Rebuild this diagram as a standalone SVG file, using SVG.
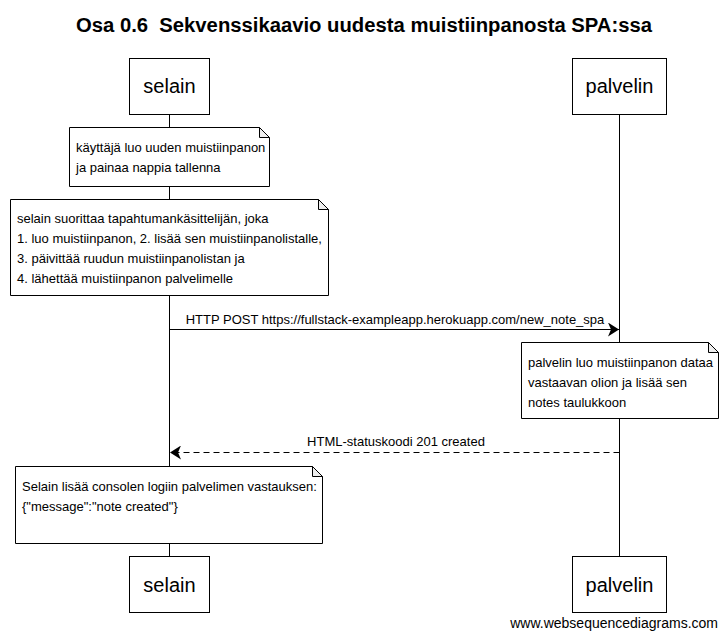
<svg xmlns="http://www.w3.org/2000/svg" width="726" height="637" viewBox="0 0 726 637">
<style>
text{font-family:"Liberation Sans",Arial,sans-serif;fill:#000}
.title{font-size:20px;font-weight:bold;text-anchor:middle}
.p{font-size:20px;text-anchor:middle}
.n{font-size:13px}
.m{font-size:13px;text-anchor:middle}
.f{font-size:14px;text-anchor:end}
.box{fill:#fff;stroke:#000;stroke-width:1}
.life{stroke:#000;stroke-width:1;fill:none}
.note{fill:#fff;stroke:#000;stroke-width:1}
.fold{fill:#eee;stroke:#000;stroke-width:1}
.msg{stroke:#000;stroke-width:1;fill:none}
.dash{stroke-dasharray:6,4}
</style>
<defs>
<marker id="ah" markerWidth="12" markerHeight="14" refX="11" refY="7" orient="auto" markerUnits="userSpaceOnUse">
<path d="M0,0 L11,7 L0,14 L3,7 Z" fill="#000"/>
</marker>
</defs>
<rect width="726" height="637" fill="#fff"/>
<text class="title" x="364" y="32" textLength="576" lengthAdjust="spacingAndGlyphs">Osa 0.6&#160; Sekvenssikaavio uudesta muistiinpanosta SPA:ssa</text>
<g id="lifelines">
<line class="life" x1="169.5" y1="114" x2="169.5" y2="556"/>
<line class="life" x1="619.5" y1="114" x2="619.5" y2="556"/>
</g>
<g id="selain-top"><rect class="box" x="129.5" y="58.5" width="80" height="56"/><text class="p" x="169.5" y="93">selain</text></g>
<g id="palvelin-top"><rect class="box" x="572.5" y="58.5" width="94" height="56"/><text class="p" x="619.5" y="93">palvelin</text></g>
<g id="note1">
<path class="note" d="M69.5,127.5 H259.5 L269.5,137.5 V186.5 H69.5 Z"/>
<path class="fold" d="M259.5,127.5 V137.5 H269.5 Z"/>
<text class="n" x="76" y="152">käyttäjä luo uuden muistiinpanon</text>
<text class="n" x="76" y="172">ja painaa nappia tallenna</text>
</g>
<g id="note2">
<path class="note" d="M10.5,199.5 H318.5 L328.5,209.5 V295.5 H10.5 Z"/>
<path class="fold" d="M318.5,199.5 V209.5 H328.5 Z"/>
<text class="n" x="17" y="223">selain suorittaa tapahtumankäsittelijän, joka</text>
<text class="n" x="17" y="243">1. luo muistiinpanon, 2. lisää sen muistiinpanolistalle,</text>
<text class="n" x="17" y="263">3. päivittää ruudun muistiinpanolistan ja</text>
<text class="n" x="17" y="283">4. lähettää muistiinpanon palvelimelle</text>
</g>
<g id="note3">
<path class="note" d="M521.5,342.5 H708.5 L718.5,352.5 V418.5 H521.5 Z"/>
<path class="fold" d="M708.5,342.5 V352.5 H718.5 Z"/>
<text class="n" x="528" y="367">palvelin luo muistiinpanon dataa</text>
<text class="n" x="528" y="387">vastaavan olion ja lisää sen</text>
<text class="n" x="528" y="407">notes taulukkoon</text>
</g>
<g id="note4">
<path class="note" d="M15.5,466.5 H312.5 L322.5,476.5 V543.5 H15.5 Z"/>
<path class="fold" d="M312.5,466.5 V476.5 H322.5 Z"/>
<text class="n" x="22" y="491">Selain lisää consolen logiin palvelimen vastauksen:</text>
<text class="n" x="22" y="511">{"message":"note created"}</text>
</g>
<g id="connectors">
<line class="msg" x1="169.5" y1="329.5" x2="619" y2="329.5" marker-end="url(#ah)"/>
<text class="m" x="395" y="324">HTTP POST https://fullstack-exampleapp.herokuapp.com/new_note_spa</text>
<line class="msg dash" x1="619.5" y1="452.5" x2="170" y2="452.5" marker-end="url(#ah)"/>
<text class="m" x="396" y="446">HTML-statuskoodi 201 created</text>
</g>
<g id="selain-bottom"><rect class="box" x="129.5" y="556.5" width="80" height="56"/><text class="p" x="169.5" y="592">selain</text></g>
<g id="palvelin-bottom"><rect class="box" x="572.5" y="556.5" width="94" height="56"/><text class="p" x="619.5" y="592">palvelin</text></g>
<text class="f" x="718" y="628">www.websequencediagrams.com</text>
</svg>
